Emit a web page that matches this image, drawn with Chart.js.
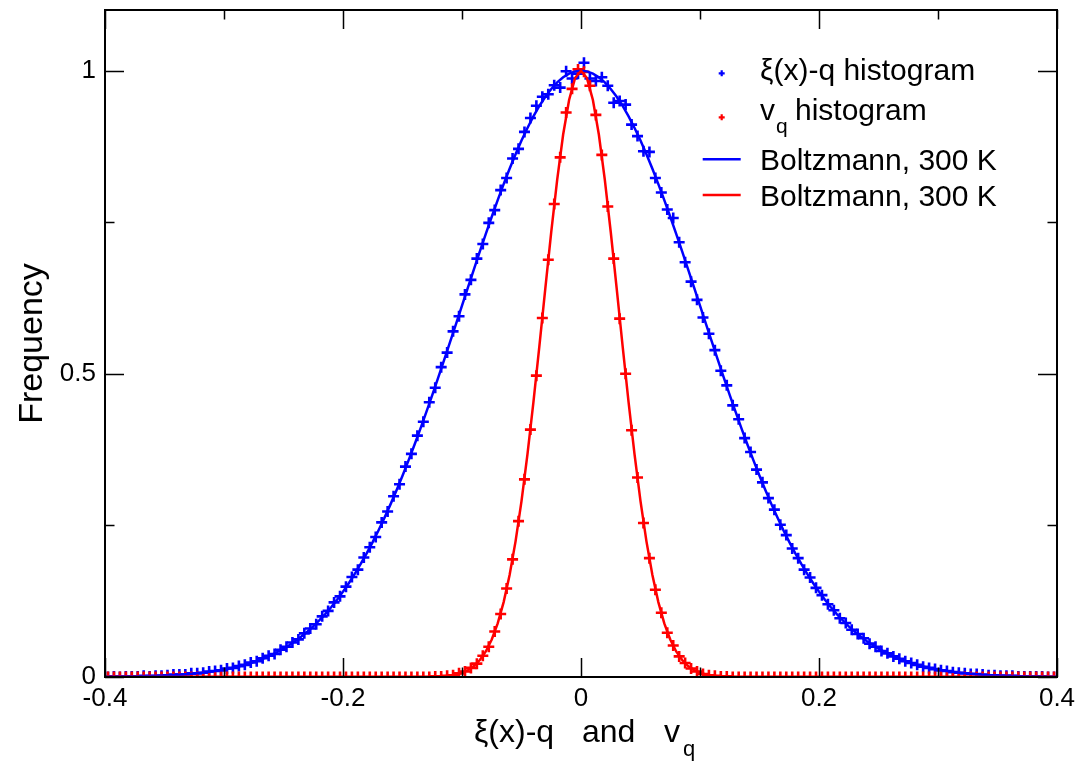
<!DOCTYPE html>
<html>
<head>
<meta charset="utf-8">
<script src="https://cdn.jsdelivr.net/npm/chart.js@4.4.1/dist/chart.umd.min.js"></script>
<style>
  html, body { margin: 0; padding: 0; background: #fff; }
  #wrap { width: 1089px; height: 761px; position: relative; }
</style>
</head>
<body>
<div id="wrap"><canvas id="c"></canvas></div>
<script>
// ---- data ----
const binX = [
-0.3975,-0.3925,-0.3875,-0.3825,-0.3775,-0.3725,-0.3675,-0.3625,-0.3575,-0.3525,
-0.3475,-0.3425,-0.3375,-0.3325,-0.3275,-0.3225,-0.3175,-0.3125,-0.3075,-0.3025,
-0.2975,-0.2925,-0.2875,-0.2825,-0.2775,-0.2725,-0.2675,-0.2625,-0.2575,-0.2525,
-0.2475,-0.2425,-0.2375,-0.2325,-0.2275,-0.2225,-0.2175,-0.2125,-0.2075,-0.2025,
-0.1975,-0.1925,-0.1875,-0.1825,-0.1775,-0.1725,-0.1675,-0.1625,-0.1575,-0.1525,
-0.1475,-0.1425,-0.1375,-0.1325,-0.1275,-0.1225,-0.1175,-0.1125,-0.1075,-0.1025,
-0.0975,-0.0925,-0.0875,-0.0825,-0.0775,-0.0725,-0.0675,-0.0625,-0.0575,-0.0525,
-0.0475,-0.0425,-0.0375,-0.0325,-0.0275,-0.0225,-0.0175,-0.0125,-0.0075,-0.0025,
0.0025,0.0075,0.0125,0.0175,0.0225,0.0275,0.0325,0.0375,0.0425,0.0475,
0.0525,0.0575,0.0625,0.0675,0.0725,0.0775,0.0825,0.0875,0.0925,0.0975,
0.1025,0.1075,0.1125,0.1175,0.1225,0.1275,0.1325,0.1375,0.1425,0.1475,
0.1525,0.1575,0.1625,0.1675,0.1725,0.1775,0.1825,0.1875,0.1925,0.1975,
0.2025,0.2075,0.2125,0.2175,0.2225,0.2275,0.2325,0.2375,0.2425,0.2475,
0.2525,0.2575,0.2625,0.2675,0.2725,0.2775,0.2825,0.2875,0.2925,0.2975,
0.3025,0.3075,0.3125,0.3175,0.3225,0.3275,0.3325,0.3375,0.3425,0.3475,
0.3525,0.3575,0.3625,0.3675,0.3725,0.3775,0.3825,0.3875,0.3925,0.3975
];
const blueHist = [
0.000,0.001,0.000,0.001,0.001,0.001,0.002,0.001,0.002,0.002,
0.003,0.004,0.004,0.004,0.006,0.006,0.007,0.009,0.010,0.011,
0.014,0.015,0.018,0.020,0.024,0.026,0.031,0.035,0.038,0.045,
0.050,0.057,0.062,0.072,0.080,0.087,0.100,0.109,0.123,0.133,
0.149,0.165,0.177,0.197,0.214,0.231,0.255,0.273,0.298,0.318,
0.347,0.368,0.398,0.421,0.453,0.477,0.511,0.535,0.570,0.595,
0.631,0.655,0.690,0.714,0.749,0.770,0.803,0.823,0.855,0.871,
0.899,0.922,0.942,0.957,0.961,0.976,0.972,0.999,0.987,0.995,
1.013,0.987,0.983,0.989,0.975,0.947,0.950,0.944,0.911,0.892,
0.867,0.866,0.823,0.799,0.771,0.757,0.717,0.684,0.652,0.622,
0.593,0.566,0.539,0.505,0.481,0.448,0.425,0.394,0.371,0.342,
0.321,0.295,0.276,0.251,0.234,0.212,0.196,0.177,0.164,0.147,
0.135,0.120,0.110,0.097,0.089,0.078,0.071,0.064,0.055,0.050,
0.043,0.039,0.034,0.030,0.026,0.023,0.020,0.017,0.015,0.013,
0.011,0.010,0.008,0.007,0.006,0.005,0.005,0.004,0.003,0.003,
0.002,0.002,0.002,0.001,0.001,0.001,0.001,0.001,0.000,0.000
];
const redHist = [
0,0,0,0,0,0,0,0,0,0,
0,0,0,0,0,0,0,0,0,0,
0,0,0,0,0,0,0,0,0,0,
0,0,0,0,0,0,0,0,0,0,
0,0,0,0,0,0,0,0,0,0,
0,0,0,0,
0.000,0.001,0.001,0.002,0.003,0.006,0.009,0.015,0.022,0.035,
0.050,0.075,0.104,0.146,0.194,0.257,0.326,0.408,0.497,0.592,
0.688,0.780,0.857,0.931,0.970,1.002,
0.998,0.975,0.927,0.861,0.776,0.690,0.591,0.500,0.407,0.329,
0.254,0.196,0.144,0.106,0.073,0.052,0.034,0.023,0.014,0.009,
0.005,0.003,0.002,0.001,0.001,0.000,
0,0,0,0,0,0,0,0,0,0,
0,0,0,0,0,0,0,0,0,0,
0,0,0,0,0,0,0,0,0,0,
0,0,0,0,0,0,0,0,0,0,
0,0,0,0,0,0,0,0,0,0,
0,0,0,0
];
const curveX = [
-0.400,-0.395,-0.390,-0.385,-0.380,-0.375,-0.370,-0.365,-0.360,-0.355,
-0.350,-0.345,-0.340,-0.335,-0.330,-0.325,-0.320,-0.315,-0.310,-0.305,
-0.300,-0.295,-0.290,-0.285,-0.280,-0.275,-0.270,-0.265,-0.260,-0.255,
-0.250,-0.245,-0.240,-0.235,-0.230,-0.225,-0.220,-0.215,-0.210,-0.205,
-0.200,-0.195,-0.190,-0.185,-0.180,-0.175,-0.170,-0.165,-0.160,-0.155,
-0.150,-0.145,-0.140,-0.135,-0.130,-0.125,-0.120,-0.115,-0.110,-0.105,
-0.100,-0.095,-0.090,-0.085,-0.080,-0.075,-0.070,-0.065,-0.060,-0.055,
-0.050,-0.045,-0.040,-0.035,-0.030,-0.025,-0.020,-0.015,-0.010,-0.005,
0.000,
0.005,0.010,0.015,0.020,0.025,0.030,0.035,0.040,0.045,0.050,
0.055,0.060,0.065,0.070,0.075,0.080,0.085,0.090,0.095,0.100,
0.105,0.110,0.115,0.120,0.125,0.130,0.135,0.140,0.145,0.150,
0.155,0.160,0.165,0.170,0.175,0.180,0.185,0.190,0.195,0.200,
0.205,0.210,0.215,0.220,0.225,0.230,0.235,0.240,0.245,0.250,
0.255,0.260,0.265,0.270,0.275,0.280,0.285,0.290,0.295,0.300,
0.305,0.310,0.315,0.320,0.325,0.330,0.335,0.340,0.345,0.350,
0.355,0.360,0.365,0.370,0.375,0.380,0.385,0.390,0.395,0.400
];
const blueCurve = [
0.0004,0.0005,0.0006,0.0007,0.0008,0.0010,0.0012,0.0015,0.0017,0.0021,
0.0025,0.0029,0.0035,0.0041,0.0048,0.0056,0.0066,0.0077,0.0090,0.0105,
0.0121,0.0140,0.0162,0.0187,0.0214,0.0246,0.0281,0.0320,0.0364,0.0413,
0.0467,0.0527,0.0594,0.0667,0.0748,0.0836,0.0933,0.1037,0.1151,0.1274,
0.1408,0.1551,0.1704,0.1868,0.2043,0.2228,0.2425,0.2633,0.2851,0.3080,
0.3319,0.3568,0.3826,0.4093,0.4367,0.4649,0.4937,0.5229,0.5526,0.5825,
0.6125,0.6425,0.6723,0.7018,0.7307,0.7590,0.7865,0.8129,0.8382,0.8622,
0.8847,0.9055,0.9246,0.9417,0.9568,0.9698,0.9806,0.9890,0.9951,0.9988,
1.0000,
0.9988,0.9951,0.9890,0.9806,0.9698,0.9568,0.9417,0.9246,0.9055,0.8847,
0.8622,0.8382,0.8129,0.7865,0.7590,0.7307,0.7018,0.6723,0.6425,0.6125,
0.5825,0.5526,0.5229,0.4937,0.4649,0.4367,0.4093,0.3826,0.3568,0.3319,
0.3080,0.2851,0.2633,0.2425,0.2228,0.2043,0.1868,0.1704,0.1551,0.1408,
0.1274,0.1151,0.1037,0.0933,0.0836,0.0748,0.0667,0.0594,0.0527,0.0467,
0.0413,0.0364,0.0320,0.0281,0.0246,0.0214,0.0187,0.0162,0.0140,0.0121,
0.0105,0.0090,0.0077,0.0066,0.0056,0.0048,0.0041,0.0035,0.0029,0.0025,
0.0021,0.0017,0.0015,0.0012,0.0010,0.0008,0.0007,0.0006,0.0005,0.0004
];
const redCurve = [
0,0,0,0,0,0,0,0,0,0,
0,0,0,0,0,0,0,0,0,0,
0,0,0,0,0,0,0,0,0,0,
0,0,0,0,0,0,0,0,0,0,
0,0,0,0,0,0,0,0,0,0,
0,0,0,0,
0.0002,0.0004,0.0008,0.0014,0.0025,0.0043,0.0071,0.0115,0.0181,0.0280,
0.0421,0.0618,0.0884,0.1235,0.1683,0.2237,0.2901,0.3670,0.4529,0.5453,
0.6405,0.7339,0.8203,0.8946,0.9517,0.9877,
1.0000,
0.9877,0.9517,0.8946,0.8203,0.7339,0.6405,0.5453,0.4529,0.3670,0.2901,
0.2237,0.1683,0.1235,0.0884,0.0618,0.0421,0.0280,0.0181,0.0115,0.0071,
0.0043,0.0025,0.0014,0.0008,0.0004,0.0002,
0,0,0,0,0,0,0,0,0,0,
0,0,0,0,0,0,0,0,0,0,
0,0,0,0,0,0,0,0,0,0,
0,0,0,0,0,0,0,0,0,0,
0,0,0,0,0,0,0,0,0,0,
0,0,0,0
];
const xTickValues = [-0.4, -0.2, 0, 0.2, 0.4];
const xTickLabels = ['-0.4', '-0.2', '0', '0.2', '0.4'];
const xMinorTicks = [-0.3, -0.1, 0.1, 0.3];
const yTickValues = [0, 0.5, 1];
const yTickLabels = ['0', '0.5', '1'];
const yMinorTicks = [0.25, 0.75];
const legendLabels = ['ξ(x)-q histogram', 'v', 'q', 'histogram', 'Boltzmann, 300 K', 'Boltzmann, 300 K'];
const xTitle = ['ξ(x)-q', 'and', 'v', 'q'];
const yTitle = 'Frequency';

const BLUE = '#0000ff', RED = '#ff0000';
const FONT = '"Liberation Sans", Arial, Helvetica, sans-serif';

const pts = (xs, ys) => xs.map((x, i) => ({ x: x, y: ys[i] }));

const decor = {
  id: 'decor',
  afterDraw(chart) {
    const { ctx, chartArea: a, scales: { x, y } } = chart;
    ctx.save();
    // frame
    ctx.strokeStyle = '#000';
    ctx.lineWidth = 2;
    ctx.strokeRect(a.left, a.top, a.right - a.left, a.bottom - a.top);
    // ticks inward, mirrored on all sides
    ctx.lineWidth = 1.5;
    ctx.beginPath();
    const xt = (v, len) => {
      const p = Math.round(x.getPixelForValue(v)) + 0.5;
      ctx.moveTo(p, a.bottom); ctx.lineTo(p, a.bottom - len);
      ctx.moveTo(p, a.top); ctx.lineTo(p, a.top + len);
    };
    const yt = (v, len) => {
      const p = Math.round(y.getPixelForValue(v)) + 0.5;
      ctx.moveTo(a.left, p); ctx.lineTo(a.left + len, p);
      ctx.moveTo(a.right, p); ctx.lineTo(a.right - len, p);
    };
    xTickValues.forEach(v => xt(v, 19));
    xMinorTicks.forEach(v => xt(v, 9.5));
    yTickValues.forEach(v => yt(v, 19));
    yMinorTicks.forEach(v => yt(v, 9.5));
    ctx.stroke();

    ctx.fillStyle = '#000';
    ctx.textBaseline = 'alphabetic';
    ctx.textAlign = 'left';
    // x title with subscript
    ctx.font = '32px ' + FONT;
    ctx.fillText(xTitle[0], 474, 742);
    ctx.fillText(xTitle[1], 582, 742);
    ctx.fillText(xTitle[2], 664, 742);
    ctx.font = '22px ' + FONT;
    ctx.fillText(xTitle[3], 683, 756);
    // y title
    ctx.save();
    ctx.translate(42, 343.5);
    ctx.rotate(-Math.PI / 2);
    ctx.font = '34px ' + FONT;
    ctx.textAlign = 'center';
    ctx.fillText(yTitle, 0, 0);
    ctx.restore();

    // legend
    const mx = 721.7, tx = 760;
    const plus = (cx, cy, col) => {
      ctx.strokeStyle = col; ctx.lineWidth = 2.2;
      ctx.beginPath();
      ctx.moveTo(cx - 3, cy); ctx.lineTo(cx + 3, cy);
      ctx.moveTo(cx, cy - 3); ctx.lineTo(cx, cy + 3);
      ctx.stroke();
    };
    const seg = (cy, col) => {
      ctx.strokeStyle = col; ctx.lineWidth = 2.5;
      ctx.beginPath();
      ctx.moveTo(702.7, cy); ctx.lineTo(740.7, cy);
      ctx.stroke();
    };
    plus(mx, 73.3, BLUE);
    plus(mx, 117.3, RED);
    seg(159.3, BLUE);
    seg(195, RED);
    ctx.fillStyle = '#000';
    ctx.font = '30px ' + FONT;
    ctx.fillText(legendLabels[0], tx, 80);
    ctx.fillText(legendLabels[1], tx, 120);
    const vw = ctx.measureText(legendLabels[1]).width;
    ctx.fillText(legendLabels[3], 795, 120);
    ctx.fillText(legendLabels[4], tx, 170);
    ctx.fillText(legendLabels[5], tx, 205.5);
    ctx.font = '21px ' + FONT;
    ctx.fillText(legendLabels[2], tx + vw + 1, 132.5);
    ctx.restore();
  }
};

new Chart(document.getElementById('c'), {
  type: 'scatter',
  data: {
    datasets: [
      { label: 'Boltzmann red', data: pts(curveX, redCurve), showLine: true, borderColor: RED, borderWidth: 2.5, pointRadius: 0, tension: 0, order: 0 },
      { label: 'Boltzmann blue', data: pts(curveX, blueCurve), showLine: true, borderColor: BLUE, borderWidth: 2.5, pointRadius: 0, tension: 0, order: 1 },
      { label: 'vq histogram', data: pts(binX, redHist), showLine: false, pointStyle: 'cross', pointRadius: 5.5, pointBorderWidth: 2.6, borderColor: RED, backgroundColor: RED, order: 2 },
      { label: 'xi histogram', data: pts(binX, blueHist), showLine: false, pointStyle: 'cross', pointRadius: 5.5, pointBorderWidth: 2.6, borderColor: BLUE, backgroundColor: BLUE, order: 3 }
    ]
  },
  options: {
    responsive: true,
    maintainAspectRatio: false,
    animation: false,
    events: [],
    layout: { padding: { left: 0, right: 32, top: 10, bottom: 0 } },
    plugins: { legend: { display: false }, tooltip: { enabled: false } },
    scales: {
      x: {
        type: 'linear', min: -0.4, max: 0.4,
        afterBuildTicks: s => { s.ticks = xTickValues.map(v => ({ value: v })); },
        afterFit: s => { s.height = 84; s.paddingLeft = 0; s.paddingRight = 0; },
        grid: { display: false, drawTicks: false },
        border: { display: false },
        ticks: { padding: 6, color: '#000', font: { family: FONT, size: 26 }, maxRotation: 0, autoSkip: false,
                 callback: (v, i) => xTickLabels[i] }
      },
      y: {
        type: 'linear', min: 0, max: 1.1,
        afterBuildTicks: s => { s.ticks = yTickValues.map(v => ({ value: v })); },
        afterFit: s => { s.width = 105; s.paddingTop = 0; s.paddingBottom = 0; },
        grid: { display: false, drawTicks: false },
        border: { display: false },
        ticks: { padding: 9, color: '#000', font: { family: FONT, size: 26 }, autoSkip: false,
                 callback: (v, i) => yTickLabels[i] }
      }
    }
  },
  plugins: [decor]
});
</script>
</body>
</html>
